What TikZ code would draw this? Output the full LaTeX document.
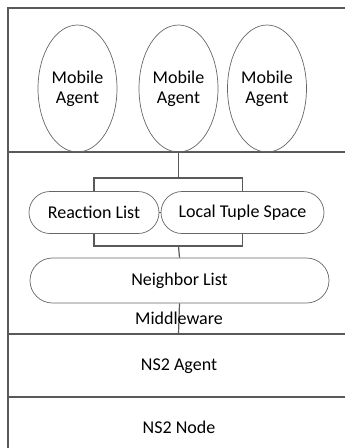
\documentclass[tikz,border=0pt]{standalone}
\usepackage{fontspec}
\setmainfont{Carlito}
\usetikzlibrary{shapes.geometric, shapes.misc}

\tikzset{
  layerline/.style = {draw=black!65, line width=1.2pt},
  agent/.style = {ellipse, draw=black!60, line width=0.7pt, minimum width=79pt, minimum height=127pt, inner sep=0pt, align=center},
  listbox/.style = {rounded rectangle, draw=black!60, line width=0.7pt, minimum height=42pt, inner sep=0pt},
  link/.style = {draw=black!65, line width=1.2pt},
  label/.style = {inner sep=0pt}
}

\begin{document}
\begin{tikzpicture}[x=1pt, y=-1pt, font=\fontsize{18}{20}\selectfont]
  \useasboundingbox (0,0) rectangle (345,448);

  % layers
  \begin{scope}[layerline]
    \draw (345,8) -| (8,448);
    \draw (8,152) -- (345,152);
    \draw (8,334) -- (345,334);
    \draw (8,397) -- (345,397);
  \end{scope}

  % mobile agents
  \node [agent] (agent1) at (77.5,88.5) {Mobile\\Agent};
  \node [agent] (agent2) at (178.5,88.5) {Mobile\\Agent};
  \node [agent] (agent3) at (267,88.5) {Mobile\\Agent};

  % middleware
  \node [listbox, minimum width=130pt] (react) at (94,212.5) {Reaction List};
  \node [listbox, minimum width=163pt] (local) at (242.5,212.5) {Local Tuple Space};
  \node [listbox, minimum width=299pt, minimum height=45pt] (nbr) at (179.5,280.5) {Neighbor List};

  \coordinate (bus1) at (178.5,178);
  \coordinate (bus2) at (178.5,246);
  \coordinate (mwbot) at (178.5,334);
  \begin{scope}[link]
    \draw (agent2.south) -- (bus1);
    \draw (react.north) |- (bus1) -| (local.north);
    \draw (react.south) |- (bus2) -| (local.south);
    \draw (bus2) -- (nbr.north);
    \draw (react.east) -- (local.west);
    \draw (nbr.south) -- (mwbot);
  \end{scope}

  \node [label] (mw) at (179,318) {Middleware};
  \node [label] (ns2agent) at (179,366) {NS2 Agent};
  \node [label] (ns2node) at (179,427) {NS2 Node};
\end{tikzpicture}
\end{document}
